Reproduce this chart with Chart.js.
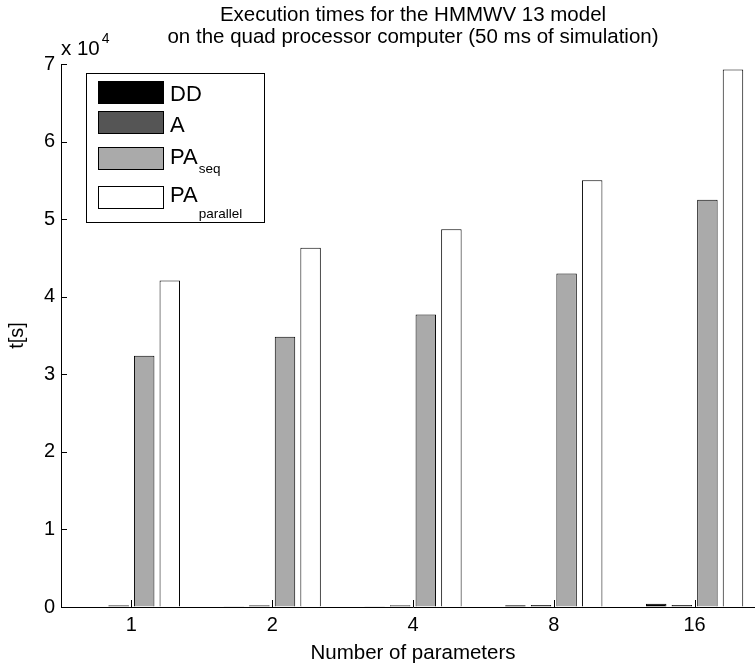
<!DOCTYPE html>
<html>
<head>
<meta charset="utf-8">
<script src="https://cdn.jsdelivr.net/npm/chart.js@4.4.1/dist/chart.umd.min.js"></script>
<style>
html, body { margin: 0; padding: 0; background: #fff; overflow: hidden; }
#wrap { position: absolute; left: 0; top: 0; width: 780px; height: 668px; }
</style>
</head>
<body>
<div id="wrap"><canvas id="chart"></canvas></div>
<script>
var categories = ['1', '2', '4', '8', '16'];
var ddTimes = [80, 90, 110, 220, 420];
var aTimes = [230, 230, 240, 250, 260];
var paSeqTimes = [32400, 34850, 37700, 43000, 52500];
var paParallelTimes = [42100, 46300, 48700, 55000, 69300];
var seriesNames = ['DD', 'A', 'PA_seq', 'PA_parallel'];
var seriesColors = ['#000000', '#555555', '#aaaaaa', '#ffffff'];
var yMax = 70000;
var yStep = 10000;

var fontFamily = '"Liberation Sans", Arial, Helvetica, sans-serif';

// matlab style extras: inward ticks, exponent label, legend with subscripts
var matlabBits = {
	id: 'matlabBits',
	afterDraw: function(chart) {
		var ctx = chart.ctx;
		var area = chart.chartArea;
		var xs = chart.scales.x, ys = chart.scales.y;
		ctx.save();
		ctx.strokeStyle = '#000';
		ctx.lineWidth = 1;
		ctx.beginPath();
		for (var i = 0; i < ys.ticks.length; i++) {
			var py = Math.round(ys.getPixelForTick(i)) + 0.5;
			ctx.moveTo(area.left, py);
			ctx.lineTo(area.left + 6, py);
		}
		for (var j = 0; j < categories.length; j++) {
			var px = Math.round(xs.getPixelForTick(j)) + 0.5;
			ctx.moveTo(px, area.bottom);
			ctx.lineTo(px, area.bottom - 7);
		}
		ctx.stroke();

		ctx.fillStyle = '#000';
		ctx.textAlign = 'left';
		ctx.textBaseline = 'alphabetic';
		ctx.font = '20.5px ' + fontFamily;
		ctx.fillText('x 10', area.left, 55);
		var w = ctx.measureText('x 10').width;
		ctx.font = '14px ' + fontFamily;
		ctx.fillText('4', area.left + w + 2, 43);

		// legend
		var bx = area.left + 25, by = area.top + 9, bw = 178, bh = 149;
		ctx.fillStyle = '#fff';
		ctx.fillRect(bx, by, bw, bh);
		ctx.strokeRect(bx + 0.5, by + 0.5, bw, bh);
		var swatchTop = [8, 38, 74, 113];
		var textBase = [28, 59, 91, 129];
		var subBase = [0, 0, 100, 145];
		chart.data.datasets.forEach(function(ds, k) {
			ctx.fillStyle = ds.backgroundColor;
			ctx.fillRect(bx + 12, by + swatchTop[k], 65, 22);
			ctx.strokeStyle = '#000';
			ctx.strokeRect(bx + 12.5, by + swatchTop[k] + 0.5, 65, 22);
			var parts = ds.label.split('_');
			ctx.fillStyle = '#000';
			ctx.font = '22px ' + fontFamily;
			ctx.fillText(parts[0], bx + 84, by + textBase[k]);
			if (parts[1]) {
				var mw = ctx.measureText(parts[0]).width;
				ctx.font = '13.5px ' + fontFamily;
				ctx.fillText(parts[1], bx + 84 + mw + 1, by + subBase[k]);
			}
		});
		ctx.restore();
	}
};

var seriesData = [ddTimes, aTimes, paSeqTimes, paParallelTimes];
var datasets = [];
for (var s = 0; s < seriesNames.length; s++) {
	datasets.push({
		label: seriesNames[s],
		data: seriesData[s],
		backgroundColor: seriesColors[s],
		borderColor: '#000',
		borderWidth: 1,
		categoryPercentage: 0.727,
		barPercentage: 0.8
	});
}

var ctx = document.getElementById('chart').getContext('2d');
new Chart(ctx, {
	type: 'bar',
	data: { labels: categories, datasets: datasets },
	plugins: [matlabBits],
	options: {
		responsive: true,
		maintainAspectRatio: false,
		animation: false,
		layout: { padding: { left: 0, right: 15, top: 0, bottom: 0 } },
		plugins: {
			legend: { display: false },
			tooltip: { enabled: false },
			title: {
				display: true,
				fullSize: false,
				text: ['Execution times for the HMMWV 13 model', 'on the quad processor computer (50 ms of simulation)'],
				color: '#000',
				font: { family: fontFamily, size: 20.5, weight: 'normal', lineHeight: '22.5px' },
				padding: { top: 4, bottom: 15 }
			}
		},
		scales: {
			x: {
				afterFit: function(scale) { scale.height = 61; },
				grid: { drawOnChartArea: false, drawTicks: false },
				border: { display: true, color: '#000', width: 1 },
				ticks: { color: '#000', padding: 6, font: { family: fontFamily, size: 20 } },
				title: {
					display: true,
					text: 'Number of parameters',
					color: '#000',
					font: { family: fontFamily, size: 20.5 },
					padding: { top: 0, bottom: 2 }
				}
			},
			y: {
				min: 0,
				max: yMax,
				afterFit: function(scale) { scale.width = 61; },
				grid: { drawOnChartArea: false, drawTicks: false },
				border: { display: true, color: '#000', width: 1 },
				ticks: {
					stepSize: yStep,
					color: '#000',
					padding: 6,
					font: { family: fontFamily, size: 20 },
					callback: function(v) { return v / 10000; }
				},
				title: {
					display: true,
					text: 't[s]',
					color: '#000',
					font: { family: fontFamily, size: 20 },
					padding: { top: 5, bottom: 0 }
				}
			}
		}
	}
});
</script>
</body>
</html>
